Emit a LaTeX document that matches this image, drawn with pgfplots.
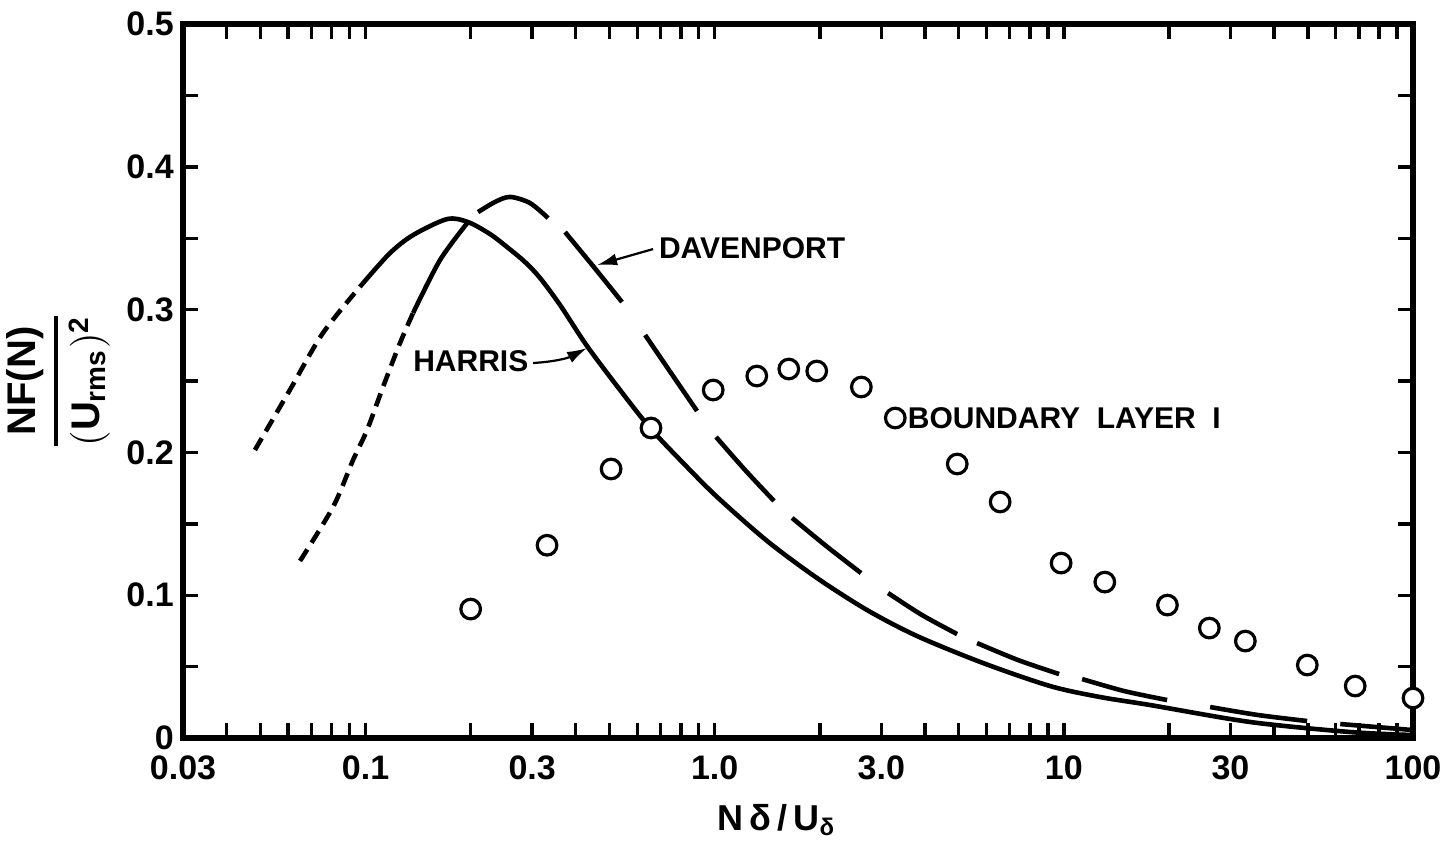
\documentclass[border=0pt]{standalone}
\usepackage{amsmath}
\usepackage{pgfplots}
\pgfplotsset{compat=1.18}
\usepackage{fontspec}
\setmainfont{Liberation Sans}
\usetikzlibrary{arrows.meta}

\pgfplotstableread{
x y
0.0482 0.2017
0.0607 0.2437
0.0755 0.2836
0.0984 0.3186
}\harrisdash
\pgfplotstableread{
x y
0.0984 0.3186
0.1175 0.3396
0.1368 0.3522
0.1712 0.3634
0.1966 0.3613
0.2273 0.3529
0.2543 0.3438
0.2863 0.3333
0.3162 0.3221
0.3607 0.3032
0.4309 0.2745
0.5357 0.2437
0.6531 0.2171
0.8119 0.1926
1.016 0.1688
1.413 0.1380
1.965 0.1120
2.732 0.0896
3.799 0.0714
5.871 0.0525
9.13 0.0364
12.7 0.0287
17.66 0.0231
34.2 0.0112
66.1 0.0042
99.5 0.0021
}\harris
\pgfplotstableread{
x y
0.0649 0.1240
0.0807 0.1618
0.0921 0.1947
0.1010 0.2157
0.1122 0.2458
0.1255 0.2766
0.1368 0.2976
}\davdash
\pgfplotstableread{
x y
0.1368 0.2976
0.1634 0.3347
0.1966 0.3613
}\davsolid
\pgfplotstableread{
x y
0.2100 0.3683
0.2349 0.3754
0.2593 0.3789
0.2959 0.3746
0.3333 0.3641
nan nan
0.3727 0.3543
0.4483 0.3305
0.5427 0.3053
nan nan
0.632 0.2822
0.7497 0.2556
0.890 0.2290
nan nan
1.009 0.2108
1.2214 0.1877
1.479 0.1660
nan nan
1.666 0.1541
2.085 0.1345
2.625 0.1155
nan nan
3.138 0.1015
3.926 0.0861
4.947 0.0728
nan nan
5.643 0.0665
7.395 0.0546
9.69 0.0448
nan nan
11.28 0.0413
14.88 0.0329
19.76 0.0266
nan nan
26.24 0.0217
36.0 0.0161
49.75 0.0119
nan nan
61.9 0.0098
99.5 0.0056
}\davlong
\pgfplotstableread{
x y
0.200 0.0903
0.331 0.1350
0.505 0.1884
0.657 0.2171
0.990 0.2437
1.32 0.2535
1.63 0.2584
1.96 0.2570
2.63 0.2458
3.29 0.2241
4.95 0.1919
6.57 0.1653
9.82 0.1225
13.1 0.1092
19.8 0.0931
26.1 0.0770
33.1 0.0679
49.8 0.0511
68.3 0.0364
100 0.0280
}\bl

\begin{document}
\begin{tikzpicture}
\begin{axis}[
  scale only axis, width=307.5pt, height=178.5pt,
  xmode=log, log basis x=10,
  xmin=0.03, xmax=100, ymin=0, ymax=0.5,
  xtick={0.03,0.1,0.3,1,3,10,30,100},
  xticklabels={0.03,0.1,0.3,1.0,3.0,10,30,100},
  minor xtick={0.04,0.05,0.06,0.07,0.08,0.09,0.2,0.4,0.5,0.6,0.7,0.8,0.9,2,4,5,6,7,8,9,20,40,50,60,70,80,90},
  ytick={0,0.1,0.2,0.3,0.4,0.5},
  yticklabels={{0\hspace{8.5pt}},0.1,0.2,0.3,0.4,0.5},
  minor ytick={0.05,0.15,0.25,0.35,0.45},
  tick align=inside,
  major tick length=3.8pt, minor tick length=3.8pt,
  every tick/.style={black, line width=0.85pt},
  axis line style={line width=1.3pt},
  tick label style={font=\fontsize{8.5}{10}\selectfont\bfseries},
  xticklabel style={yshift=-0.8pt},
  yticklabel style={xshift=1.2pt},
  clip=false,
  unbounded coords=jump,
]
\coordinate (SW) at (rel axis cs:0,0);
\coordinate (NE) at (rel axis cs:1,1);
\coordinate (ML) at (rel axis cs:0,0.5);
\coordinate (XL) at (rel axis cs:0.483,0);

\addplot[black, line width=1.15pt, smooth, dash pattern=on 3.4pt off 2pt] table {\harrisdash};
\addplot[black, line width=1.15pt, smooth] table {\harris};
\addplot[black, line width=1.15pt, smooth, dash pattern=on 3.4pt off 2pt] table {\davdash};
\addplot[black, line width=1.15pt, smooth] table {\davsolid};
\addplot[black, line width=1.15pt, smooth] table {\davlong};
\addplot[only marks, mark=*, mark size=2.45pt, mark options={fill=white, draw=black, line width=0.8pt}] table {\bl};

\node[font=\fontsize{7.5}{9}\selectfont\bfseries] at (axis cs:0.2002,0.264) {HARRIS};
\draw[line width=0.55pt, -{Latex[length=5pt,width=3pt]}] (axis cs:0.3018,0.2626) to[bend right=12] (axis cs:0.4309,0.2731);
\node[font=\fontsize{7.5}{9}\selectfont\bfseries] at (axis cs:1.28,0.3431) {DAVENPORT};
\draw[line width=0.55pt, -{Latex[length=5pt,width=3pt]}] (axis cs:0.666,0.3424) -- (axis cs:0.4605,0.3312);
\node[font=\fontsize{7.5}{9}\selectfont\bfseries, anchor=west, inner sep=0pt] at (axis cs:3.557,0.2241) {BOUNDARY\ \ LAYER\ \ I};
\end{axis}
\node[rotate=90, font=\fontsize{10}{12}\selectfont\bfseries] at ([xshift=-31.25pt]ML) {$\genfrac{}{}{0.9pt}{0}{\text{NF(N)}}{(\text{U}_{\text{rms}})^{\text{2}}}$};
\node[font=\fontsize{9}{11}\selectfont\bfseries] at ([yshift=-20.5pt]XL) {N\,δ\,/\,U\textsubscript{δ}};
\pgfresetboundingbox
\path ([shift={(-45.75pt,-27.5pt)}]SW) rectangle ([shift={(9.25pt,6pt)}]NE);
\end{tikzpicture}
\end{document}
